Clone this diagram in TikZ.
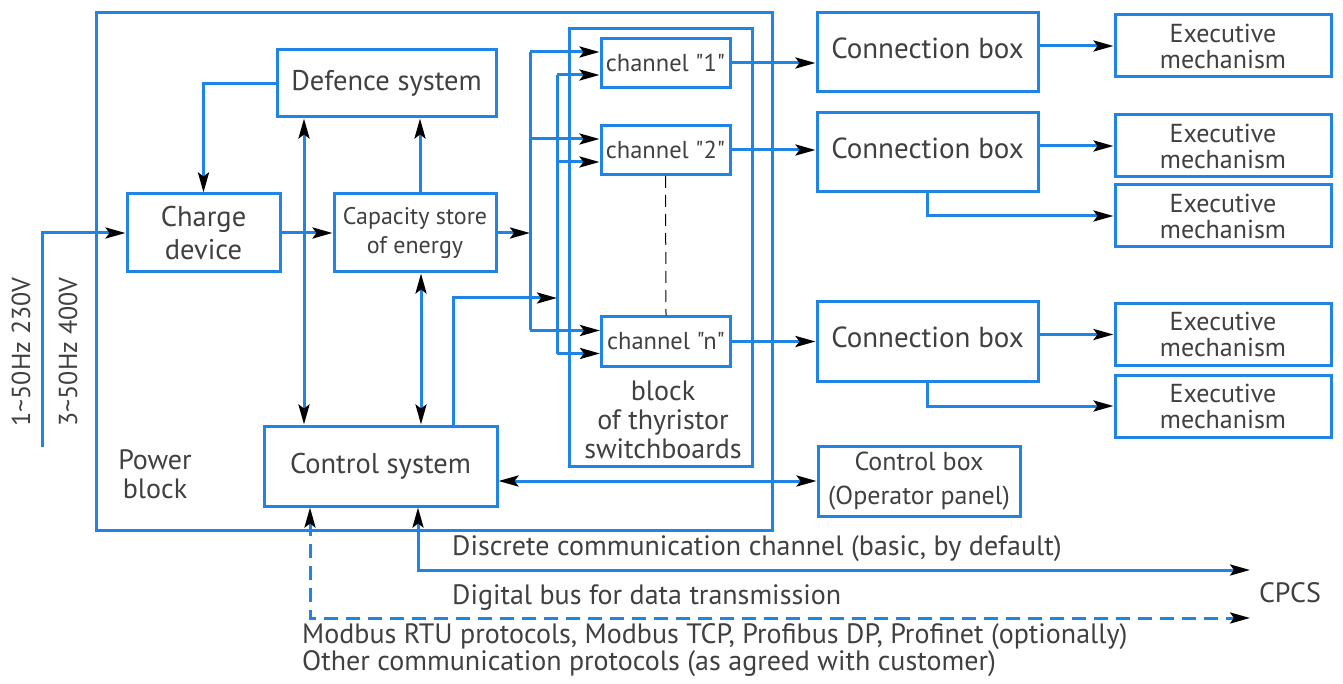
\documentclass[tikz,border=0pt]{standalone}
\usepackage{fontspec}
\setmainfont{PT Sans}[Ligatures=TeXOff]
\usetikzlibrary{arrows.meta}
\definecolor{wireblue}{RGB}{32,132,230}
\definecolor{txtgray}{RGB}{64,64,64}
\tikzset{
  wire/.style={draw=wireblue, line width=3pt},
  arr/.style={wire, -{Stealth[color=black,length=20pt,width=11pt,inset=4pt]}},
  biarr/.style={wire, {Stealth[color=black,length=20pt,width=11pt,inset=4pt]}-{Stealth[color=black,length=20pt,width=11pt,inset=4pt]}},
  blk/.style={draw=wireblue, line width=3pt, text=txtgray, align=center, inner sep=0pt,
    font=\fontsize{28.5}{33}\selectfont},
  chbox/.style={blk, minimum width=129pt, minimum height=49pt, font=\fontsize{24.5}{28}\selectfont},
  connbox/.style={blk, minimum width=221pt, minimum height=79pt, text depth=9pt, font=\fontsize{29}{33}\selectfont},
  execbox/.style={blk, minimum width=216pt, minimum height=62pt, font=\fontsize{26}{26}\selectfont},
  lbl/.style={text=txtgray, inner sep=0pt, align=center, font=\fontsize{28}{29}\selectfont},
}
\begin{document}
\begin{tikzpicture}[x=1pt,y=-1pt]
\useasboundingbox (0,0) rectangle (1343,684);
\node[blk, minimum width=676pt, minimum height=517pt] (power) at (434,271.5) {};
\node[blk, minimum width=183pt, minimum height=437pt] (thy) at (660.5,247.5) {};
\node[blk, minimum width=219pt, minimum height=67pt] (defence) at (386.5,83.5) {Defence system};
\node[blk, minimum width=153pt, minimum height=78pt] (charge) at (203.5,233) {Charge\\device};
\node[blk, minimum width=162pt, minimum height=78pt, font=\fontsize{24}{29}\selectfont] (capacity) at (415,233) {Capacity store\\of energy};
\node[blk, minimum width=233pt, minimum height=80pt] (control) at (380.5,466) {Control system};
\node[chbox] (ch1) at (665.5,63) {channel "1"};
\node[chbox] (ch2) at (665.5,150) {channel "2"};
\node[chbox] (chn) at (666,341.5) {channel "n"};
\node[lbl] (thylbl) at (663,420) {block\\of thyristor\\switchboards};
\node[connbox] (conn1) at (927.5,52.5) {Connection box};
\node[connbox] (conn2) at (927.5,152.5) {Connection box};
\node[connbox] (conn3) at (927.5,341.5) {Connection box};
\node[execbox] (exec1) at (1223,46) {Executive\\mechanism};
\node[execbox] (exec2) at (1223,146) {Executive\\mechanism};
\node[execbox] (exec3) at (1223,216) {Executive\\mechanism};
\node[execbox] (exec4) at (1223,334.5) {Executive\\mechanism};
\node[execbox] (exec5) at (1223,406) {Executive\\mechanism};
\node[blk, minimum width=202pt, minimum height=70pt, font=\fontsize{26}{34}\selectfont] (ctrlbox) at (919,481) {Control box\\(Operator panel)};
\node[lbl] (pwrlbl) at (155,474) {Power\\block};
\node[lbl, rotate=90, font=\fontsize{26}{29}\selectfont] (v1) at (21,352) {1\textasciitilde50Hz 230V};
\node[lbl, rotate=90, font=\fontsize{26}{29}\selectfont] (v3) at (68,352) {3\textasciitilde50Hz 400V};
\node[lbl, anchor=west] (discr) at (452,549) {Discrete communication channel (basic, by default)};
\node[lbl, anchor=west] (digbus) at (452,598) {Digital bus for data transmission};
\node[lbl] (cpcs) at (1290,593) {CPCS};
\node[lbl, anchor=west] (modbus) at (302,637) {Modbus RTU protocols, Modbus TCP, Profibus DP, Profinet (optionally)};
\node[lbl, anchor=west] (other) at (302,664) {Other communication protocols (as agreed with customer)};
\coordinate (mains) at (42,447);
\coordinate (bus1) at (530,0);
\coordinate (bus2) at (557,0);
\coordinate (dcx) at (304,0);
\coordinate (ccx) at (421,0);
\coordinate (csout) at (453,298);
\coordinate (cpcs1) at (1250,570);
\coordinate (cpcs2) at (1250,618);
\coordinate (solx) at (418,0);
\coordinate (dashx) at (310,0);
\draw[arr] (mains) |- (charge.west);
\draw[arr] (defence.west) -| (charge.north);
\draw[arr] (charge.east) -- (capacity.west);
\draw[arr] ([xshift=5pt]capacity.north) -- ([xshift=5pt]capacity.north |- defence.south);
\draw[biarr] (defence.south -| dcx) -- (control.north -| dcx);
\draw[biarr] (capacity.south -| ccx) -- (control.north -| ccx);
\draw[arr] (capacity.east) -- (capacity.east -| bus1);
\draw[wire] ([yshift=11pt]ch1.west -| bus1) -- ([yshift=11pt]chn.west -| bus1);
\draw[wire] ([yshift=-12pt]ch1.west -| bus2) -- ([yshift=-12pt]chn.west -| bus2);
\foreach \c in {ch1,ch2,chn} {
  \draw[arr] ([yshift=11pt]\c.west -| bus1) -- ([yshift=11pt]\c.west);
  \draw[arr] ([yshift=-12pt]\c.west -| bus2) -- ([yshift=-12pt]\c.west);
}
\draw[arr] (control.north -| csout) |- (csout -| bus2);
\draw[black, line width=1pt, dash pattern=on 12pt off 7pt] (ch2.south) -- (chn.north);
\draw[arr] (ch1.east) -- (ch1.east -| conn1.west);
\draw[arr] (ch2.east) -- (ch2.east -| conn2.west);
\draw[arr] (chn.east) -- (chn.east -| conn3.west);
\draw[arr] (exec1.west -| conn1.east) -- (exec1.west);
\draw[arr] (exec2.west -| conn2.east) -- (exec2.west);
\draw[arr] (conn2.south) |- (exec3.west);
\draw[arr] (exec4.west -| conn3.east) -- (exec4.west);
\draw[arr] (conn3.south) |- (exec5.west);
\draw[biarr] (ctrlbox.west -| control.east) -- (ctrlbox.west);
\draw[biarr] (control.south -| solx) |- (cpcs1);
\draw[biarr, dash pattern=on 14pt off 8pt] (control.south -| dashx) |- (cpcs2);
\end{tikzpicture}
\end{document}
